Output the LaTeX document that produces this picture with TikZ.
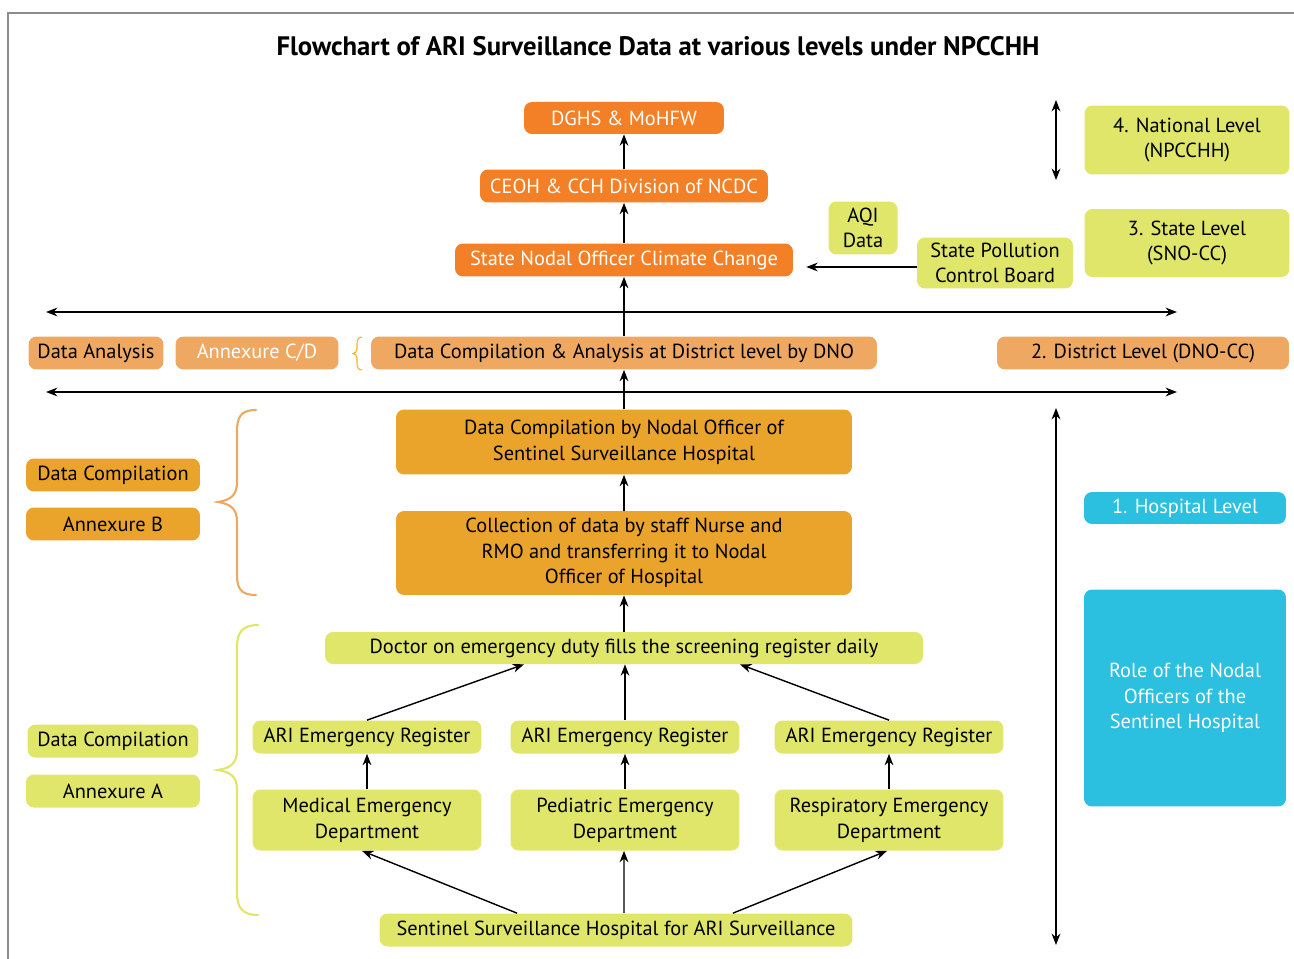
\documentclass[tikz,border=0pt]{standalone}
\usepackage{fontspec}
\setmainfont{PT Sans}
\usetikzlibrary{arrows.meta}
\definecolor{dorange}{HTML}{F37F26}
\definecolor{lorange}{HTML}{EFA862}
\definecolor{amber}{HTML}{EBA42B}
\definecolor{lime}{HTML}{E0E66A}
\definecolor{cyanb}{HTML}{2BC0E0}
\definecolor{framegray}{HTML}{8C8C8C}
\tikzset{
  box/.style={rounded corners=0.16cm, inner sep=1pt, align=center, font=\fontsize{11.6}{14.6}\selectfont, text=black},
  dor/.style={box, fill=dorange, text=white},
  lor/.style={box, fill=lorange},
  amb/.style={box, fill=amber},
  lim/.style={box, fill=lime},
  cyn/.style={box, fill=cyanb, text=white},
  arr/.style={-{Stealth[length=6.5pt,width=5pt]}, line width=0.8pt},
  dbl/.style={{Stealth[length=6.5pt,width=5pt]}-{Stealth[length=6.5pt,width=5pt]}, line width=0.8pt},
  brace/.style={line width=1.2pt, line cap=round}
}
\begin{document}
\begin{tikzpicture}[x=0.02cm,y=-0.02cm]
\useasboundingbox (0,0) rectangle (1294,959);
\fill[white] (0,0) rectangle (1294,959);
\draw[framegray, line width=0.8pt] (8,959) -- (8,13) -- (1294,13);

\node[font=\bfseries\fontsize{15.2}{18}\selectfont] (title) at (658,46) {Flowchart of ARI Surveillance Data at various levels under NPCCHH};

% National / state level
\node[dor, minimum width=4.0cm, minimum height=0.64cm] (dghs) at (624,118) {DGHS \& MoHFW};
\node[dor, minimum width=5.76cm, minimum height=0.66cm] (ceoh) at (624,186) {CEOH \& CCH Division of NCDC};
\node[dor, minimum width=6.76cm, minimum height=0.66cm] (sno) at (624,260) {State Nodal Officer Climate Change};
\node[lim, minimum width=1.38cm, minimum height=1.06cm] (aqi) at (863,228) {AQI\\Data};
\node[lim, minimum width=3.12cm, minimum height=1.02cm] (spcb) at (995,263) {State Pollution\\Control Board};
\node[lim, minimum width=4.1cm, minimum height=1.38cm] (nat) at (1187,140) {4. National Level\\(NPCCHH)};
\node[lim, minimum width=4.1cm, minimum height=1.36cm] (state) at (1187,243) {3. State Level\\(SNO-CC)};

% District level
\node[lor, minimum width=2.7cm, minimum height=0.66cm] (da) at (96,353) {Data Analysis};
\node[lor, text=white, minimum width=3.26cm, minimum height=0.66cm] (annc) at (257,353) {Annexure C/D};
\node[lor, minimum width=10.12cm, minimum height=0.66cm] (dca) at (624,353) {Data Compilation \& Analysis at District level by DNO};
\node[lor, minimum width=5.84cm, minimum height=0.66cm] (dist) at (1143,353) {2. District Level (DNO-CC)};

% Hospital level
\node[amb, minimum width=9.12cm, minimum height=1.3cm] (dcn) at (624,442) {Data Compilation by Nodal Officer of\\Sentinel Surveillance Hospital};
\node[amb, minimum width=9.12cm, minimum height=1.68cm] (col) at (624,553) {Collection of data by staff Nurse and\\RMO and transferring it to Nodal\\Officer of Hospital};
\node[amb, minimum width=3.48cm, minimum height=0.66cm] (dcb) at (113,475) {Data Compilation};
\node[amb, minimum width=3.48cm, minimum height=0.66cm] (annb) at (113,524) {Annexure B};
\node[cyn, minimum width=4.04cm, minimum height=0.64cm] (hosp) at (1185,508) {1. Hospital Level};
\node[cyn, minimum width=4.04cm, minimum height=4.34cm] (role) at (1185,698) {Role of the Nodal\\Officers of the\\Sentinel Hospital};

\node[lim, minimum width=11.96cm, minimum height=0.64cm] (doc) at (624,648) {Doctor on emergency duty fills the screening register daily};
\node[lim, minimum width=4.58cm, minimum height=0.66cm] (ari1) at (367,737) {ARI Emergency Register};
\node[lim, minimum width=4.58cm, minimum height=0.66cm] (ari2) at (625,737) {ARI Emergency Register};
\node[lim, minimum width=4.58cm, minimum height=0.66cm] (ari3) at (889,737) {ARI Emergency Register};
\node[lim, minimum width=4.58cm, minimum height=1.22cm] (med) at (367,820) {Medical Emergency\\Department};
\node[lim, minimum width=4.58cm, minimum height=1.22cm] (ped) at (625,820) {Pediatric Emergency\\Department};
\node[lim, minimum width=4.58cm, minimum height=1.22cm] (resp) at (889,820) {Respiratory Emergency\\Department};
\node[lim, minimum width=9.46cm, minimum height=0.66cm] (sent) at (616,930) {Sentinel Surveillance Hospital for ARI Surveillance};
\node[lim, minimum width=3.42cm, minimum height=0.66cm] (dca2) at (113,741) {Data Compilation};
\node[lim, minimum width=3.48cm, minimum height=0.66cm] (anna) at (113,791) {Annexure A};

% Coordinates for free ends
\coordinate (h1l) at (46,312); \coordinate (h1r) at (1177,312);
\coordinate (h2l) at (46,392); \coordinate (h2r) at (1177,392);
\coordinate (v1t) at (1056,100); \coordinate (v1b) at (1056,180);
\coordinate (v2t) at (1056,408); \coordinate (v2b) at (1056,945);

% Arrows
\draw[arr] (ceoh.north) -- (dghs.south);
\draw[arr] (sno.north) -- (ceoh.south);
\draw[arr] (dca.north) -- (sno.south);
\draw[arr, shorten >=0.26cm] ([yshift=-0.08cm]spcb.west) -- ([yshift=-0.08cm]spcb.west -| sno.east);
\draw[dbl] (h1l) -- (h1r);
\draw[dbl] (h2l) -- (h2r);
\draw[dbl] (v1t) -- (v1b);
\draw[dbl] (v2t) -- (v2b);
\draw[arr] (dcn.north) -- (dca.south);
\draw[arr] (col.north) -- (dcn.south);
\draw[arr] (doc.north) -- (col.south);
\draw[arr] (ari1.north) -- ([xshift=-2.0cm]doc.south);
\draw[arr] (ari2.north) -- (ari2.north |- doc.south);
\draw[arr] (ari3.north) -- ([xshift=2.32cm]doc.south);
\draw[arr] (med.north) -- (ari1.south);
\draw[arr] (ped.north) -- (ari2.south);
\draw[arr] (resp.north) -- (ari3.south);
\draw[arr] ([xshift=-1.98cm]sent.north) -- ([xshift=-0.1cm]med.south);
\draw[arr] ([xshift=0.16cm]sent.north) -- ([xshift=-0.02cm]ped.south);
\draw[arr] ([xshift=2.34cm]sent.north) -- ([xshift=-0.04cm]resp.south);

% Braces
\draw[brace, color=lorange] (256,410) .. controls (240,410) and (237,418) .. (237,432)
  -- (237,482) .. controls (237,496) and (230,500) .. (218,502)
  .. controls (230,504) and (237,508) .. (237,522)
  -- (237,574) .. controls (237,588) and (240,595) .. (256,595);
\draw[brace, color=lime] (258,625) .. controls (242,625) and (237,633) .. (237,647)
  -- (237,750) .. controls (237,764) and (230,768) .. (218,770)
  .. controls (230,772) and (237,776) .. (237,790)
  -- (237,893) .. controls (237,907) and (242,915) .. (258,915);
\draw[line width=0.6pt, color=amber!80!yellow] (362,337) .. controls (358,337) and (357,340) .. (357,344)
  -- (357,349) .. controls (357,352) and (355,353) .. (353,353.5)
  .. controls (355,354) and (357,355) .. (357,358)
  -- (357,363) .. controls (357,367) and (358,370) .. (362,370);
\end{tikzpicture}
\end{document}
